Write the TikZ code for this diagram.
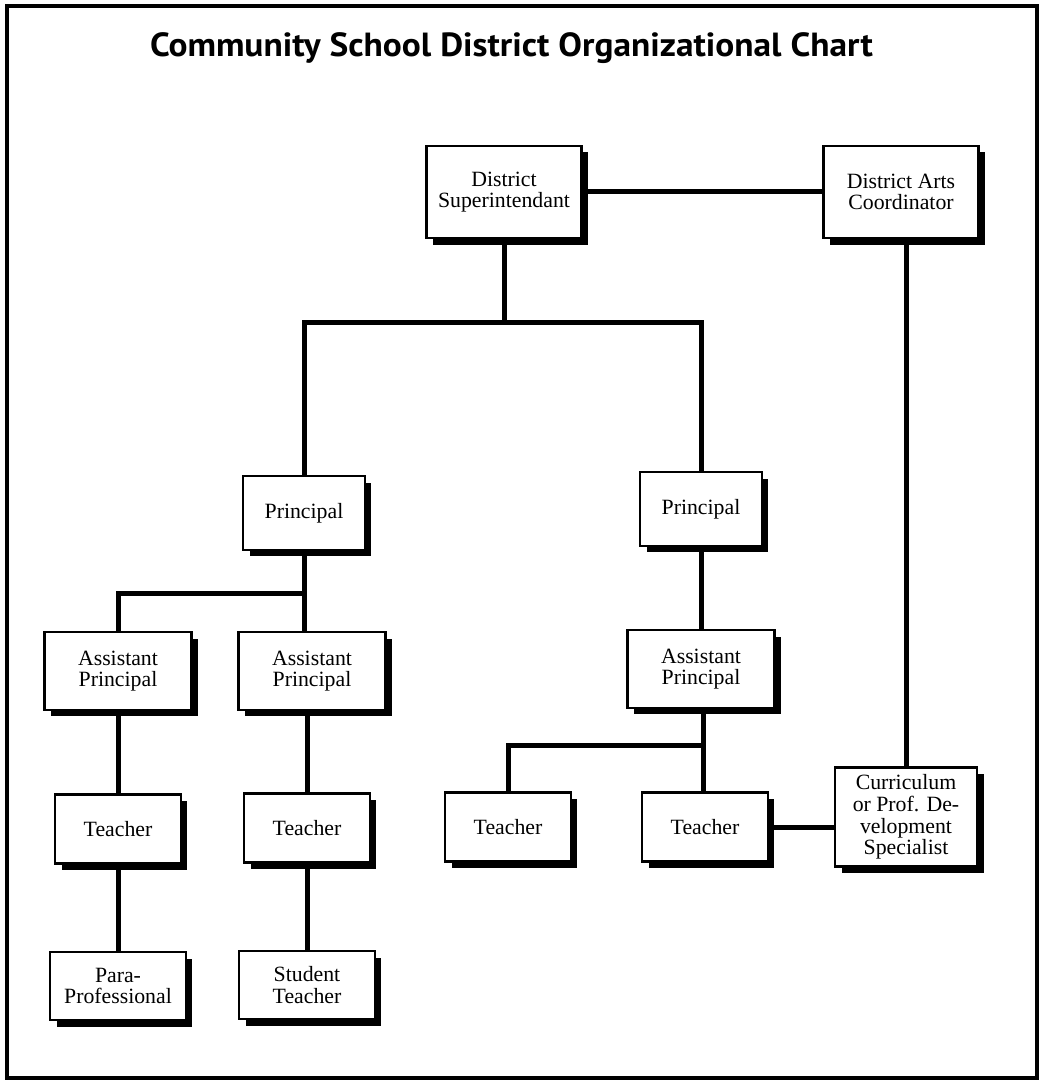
\documentclass[tikz,border=0pt]{standalone}
\usepackage{fontspec}
\usepackage{graphicx}
\setmainfont{Liberation Serif}
\newfontfamily\titlefont{PT Sans}
\usetikzlibrary{shadows}

\tikzset{
  box/.style={draw, fill=white, line width=0.045cm, align=center, inner sep=0pt,
    font=\fontsize{12.4}{12.3}\selectfont,
    drop shadow={shadow xshift=0.13cm, shadow yshift=-0.13cm, opacity=1, fill=black}},
  headbox/.style={box, minimum width=3.1cm, minimum height=1.85cm},
  prinbox/.style={box, minimum width=2.44cm, minimum height=1.47cm},
  apbox/.style={box, minimum width=2.94cm, minimum height=1.56cm},
  teabox/.style={box, minimum width=2.52cm, minimum height=1.38cm},
  lowbox/.style={box, minimum width=2.72cm, minimum height=1.36cm},
  curbox/.style={box, minimum width=2.84cm, minimum height=1.98cm},
  link/.style={line width=0.1cm}
}

\begin{document}
\begin{tikzpicture}[x=0.02cm, y=-0.02cm]

      \useasboundingbox (0,0) rectangle (1042,1081);
      \draw[line width=0.07cm] (7,6) rectangle (1037,1078);

      \node[anchor=base] (title) at (511.5,57)
        {\resizebox*{14.46cm}{0.62cm}{\titlefont\bfseries Community School District Organizational Chart}};

      \node[headbox] (sup)   at (504,192) {District\\Superintendant};
      \node[headbox] (coord) at (901,192) {District Arts\\Coordinator};
      \node[prinbox] (prinL) at (304,513) {Principal};
      \node[prinbox] (prinR) at (701,509) {Principal};
      \node[apbox]   (apL)   at (118,671) {Assistant\\Principal};
      \node[apbox]   (apM)   at (312,671) {Assistant\\Principal};
      \node[apbox]   (apR)   at (701,669) {Assistant\\Principal};
      \node[teabox]  (teaA)  at (118,829) {Teacher};
      \node[teabox]  (teaB)  at (307,828) {Teacher};
      \node[teabox]  (teaC)  at (508,827) {Teacher};
      \node[teabox]  (teaD)  at (705,827) {Teacher};
      \node[curbox]  (spec)  at (906,817) {Curriculum\\or Prof. De-\\velopment\\Specialist};
      \node[lowbox]  (para)  at (118,986) {Para-\\Professional};
      \node[lowbox]  (stud)  at (307,985) {Student\\Teacher};

      \coordinate (barTop) at (504,322);
      \coordinate (barL)   at (304,593);
      \coordinate (barR)   at (703,745);

      \draw[link] (sup) -- (coord);
      \draw[link] (sup) -- (barTop);
      \draw[link] (prinL) |- (barTop) -| (prinR);

      \draw[link] (prinL) -- (barL);
      \draw[link] (apL) |- (barL) -- (barL |- apM.north);
      \draw[link] (apL) -- (teaA);
      \draw[link] (teaA) -- (para);
      \draw[link] (apM.south -| teaB) -- (teaB);
      \draw[link] (teaB) -- (stud);

      \draw[link] (prinR) -- (apR);
      \draw[link] (apR.south -| barR) -- (barR);
      \draw[link] (teaC) |- (barR) -- (barR |- teaD.north);
      \draw[link] (teaD.east) -- (teaD.east -| spec.west);
      \draw[link] (coord.south -| spec) -- (spec);

    \end{tikzpicture}
\end{document}
